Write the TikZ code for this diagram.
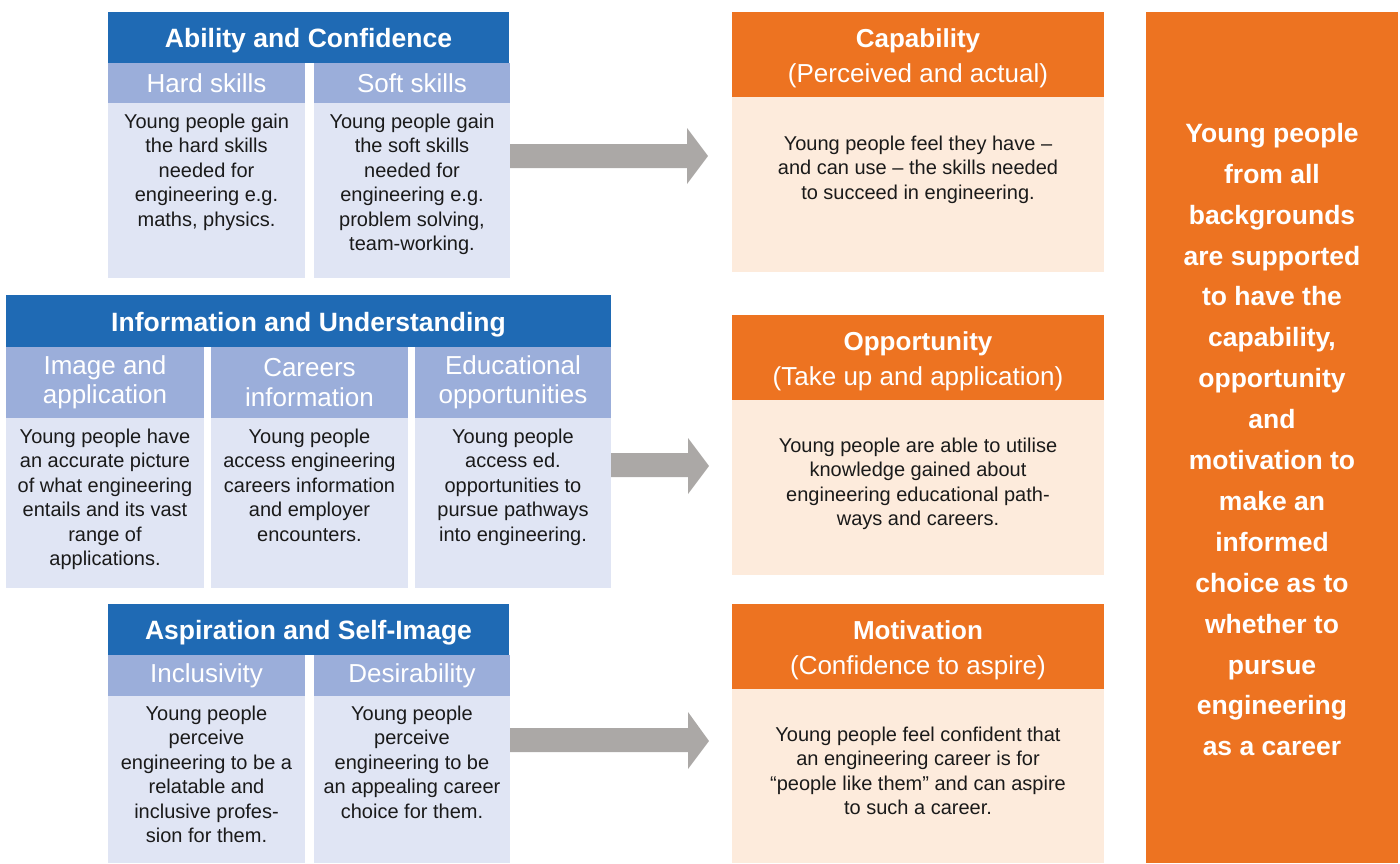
\documentclass[tikz,border=0pt]{standalone}
\usepackage{fontspec}
\setmainfont{Liberation Sans}
\definecolor{hblue}{HTML}{1F6AB4}
\definecolor{sblue}{HTML}{9BAEDA}
\definecolor{bblue}{HTML}{E0E5F4}
\definecolor{orng}{HTML}{ED7321}
\definecolor{lorng}{HTML}{FDEBDC}
\definecolor{agray}{HTML}{ABA8A6}
\definecolor{ink}{HTML}{1A1A1A}
\begin{document}
\begin{tikzpicture}[x=1pt,y=-1pt,
  boxbase/.style={anchor=north west, inner sep=0pt, outer sep=0pt, align=center},
  dims/.style 2 args={minimum width=#1pt, minimum height=#2pt},
  hdr/.style={boxbase, fill=hblue, text=white, text height=20pt, text depth=0pt, font=\fontsize{26.5}{30}\selectfont\bfseries},
  sub/.style={boxbase, fill=sblue, text=white, font=\fontsize{26}{29.5}\selectfont},
  bodybox/.style={boxbase, fill=bblue},
  ohdr/.style={boxbase, fill=orng, text=white, font=\fontsize{26}{35}\selectfont},
  obody/.style={boxbase, fill=lorng},
  btext/.style={anchor=north, inner sep=0pt, align=center, text=ink, font=\fontsize{20}{24.5}\selectfont},
  tall/.style={boxbase, fill=orng, text=white, font=\fontsize{26.5}{40.9}\selectfont\bfseries},
  arr/.style={fill=agray}
]
\useasboundingbox (0,0) rectangle (1400,863);

% ---------- Block 1: Ability and Confidence ----------
\node[hdr, dims={401}{51}] (h1) at (108,12) {Ability and Confidence};
\node[sub, dims={197}{40}] (s11) at (108,63) {Hard skills};
\node[sub, dims={196}{40}] (s12) at (314,63) {Soft skills};
\node[bodybox, dims={197}{175}] (b11) at (108,103) {};
\node[bodybox, dims={196}{175}] (b12) at (314,103) {};
\node[btext] (t11) at (206.5,113.4) {Young people gain\\the hard skills\\needed for\\engineering e.g.\\maths, physics.};
\node[btext] (t12) at (412,113.4) {Young people gain\\the soft skills\\needed for\\engineering e.g.\\problem solving,\\team-working.};

% ---------- Block 2: Information and Understanding ----------
\node[hdr, dims={605}{52}] (h2) at (6,295) {Information and Understanding};
\node[sub, dims={198}{71}] (s21) at (6,347) {Image and\\application};
\node[sub, dims={197}{71}] (s22) at (211,347) {Careers\\information};
\node[sub, dims={196}{71}] (s23) at (415,347) {Educational\\opportunities};
\node[bodybox, dims={198}{170}] (b21) at (6,418) {};
\node[bodybox, dims={197}{170}] (b22) at (211,418) {};
\node[bodybox, dims={196}{170}] (b23) at (415,418) {};
\node[btext] (t21) at (105,428.4) {Young people have\\an accurate picture\\of what engineering\\entails and its vast\\range of\\applications.};
\node[btext] (t22) at (309.5,428.4) {Young people\\access engineering\\careers information\\and employer\\encounters.};
\node[btext] (t23) at (513,428.4) {Young people\\access ed.\\opportunities to\\pursue pathways\\into engineering.};

% ---------- Block 3: Aspiration and Self-Image ----------
\node[hdr, dims={401}{51}] (h3) at (108,604) {Aspiration and Self-Image};
\node[sub, dims={197}{41}] (s31) at (108,655) {Inclusivity};
\node[sub, dims={196}{41}] (s32) at (314,655) {Desirability};
\node[bodybox, dims={197}{167}] (b31) at (108,696) {};
\node[bodybox, dims={196}{167}] (b32) at (314,696) {};
\node[btext] (t31) at (206.5,705.4) {Young people\\perceive\\engineering to be a\\relatable and\\inclusive profes-\\sion for them.};
\node[btext] (t32) at (412,705.4) {Young people\\perceive\\engineering to be\\an appealing career\\choice for them.};

% ---------- Outcome boxes ----------
\node[ohdr, dims={372}{85}] (o1) at (732,12) {\rule{0pt}{27pt}\textbf{Capability}\\(Perceived and actual)};
\node[obody, dims={372}{175}] (ob1) at (732,97) {};
\node[btext] (ot1) at (918,135.4) {Young people feel they have –\\and can use – the skills needed\\to succeed in engineering.};

\node[ohdr, dims={372}{85}] (o2) at (732,315) {\rule{0pt}{27pt}\textbf{Opportunity}\\(Take up and application)};
\node[obody, dims={372}{175}] (ob2) at (732,400) {};
\node[btext] (ot2) at (918,437.4) {Young people are able to utilise\\knowledge gained about\\engineering educational path-\\ways and careers.};

\node[ohdr, dims={372}{85}] (o3) at (732,604) {\rule{0pt}{27pt}\textbf{Motivation}\\(Confidence to aspire)};
\node[obody, dims={372}{174}] (ob3) at (732,689) {};
\node[btext] (ot3) at (918,726.4) {Young people feel confident that\\an engineering career is for\\“people like them” and can aspire\\to such a career.};

% ---------- Tall result box ----------
\node[tall, dims={252}{851}] (res) at (1146,12) {\rule{0pt}{23.5pt}Young people\\from all\\backgrounds\\are supported\\to have the\\capability,\\opportunity\\and\\motivation to\\make an\\informed\\choice as to\\whether to\\pursue\\engineering\\as a career};

% ---------- Block arrows ----------
\fill[arr] (b12.east |- 0,144) -- (687,144) -- (687,128) -- (708,156) -- (687,184) -- (687,168) -- (b12.east |- 0,168) -- cycle;
\fill[arr] (b23.east |- 0,453) -- (688,453) -- (688,438) -- (709,466) -- (688,494) -- (688,477) -- (b23.east |- 0,477) -- cycle;
\fill[arr] (b32.east |- 0,728) -- (688,728) -- (688,712) -- (709,741) -- (688,769) -- (688,752) -- (b32.east |- 0,752) -- cycle;
\end{tikzpicture}
\end{document}
